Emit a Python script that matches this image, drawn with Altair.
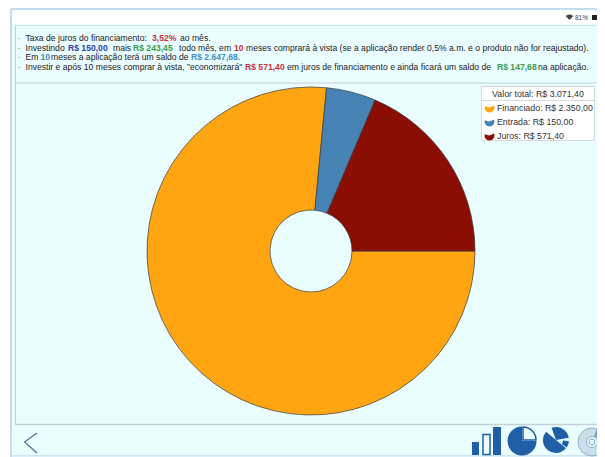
import math
import altair as alt
import pandas as pd

CATEGORIES = ["Financiado", "Entrada", "Juros"]
VALUES = [2350.00, 150.00, 571.40]
COLORS = ["#FFA511", "#4682B4", "#8B0E04"]
LEGEND_TEXT = ["Financiado: R$ 2.350,00", "Entrada: R$ 150,00", "Juros: R$ 571,40"]
TOTAL_TEXT = "Valor total: R$ 3.071,40"

BLACK, RED, NAVY, GREEN, BLUE = "#222222", "#C8323C", "#2A3FA8", "#3C9A4A", "#3F8FC4"
HEADER = [
    (38, [(25.5, "Taxa de juros do financiamento:", BLACK, 0), (152, "3,52%", RED, 1), (180, "ao mês.", BLACK, 0)]),
    (47.5, [(25.5, "Investindo", BLACK, 0), (68, "R$ 150,00", NAVY, 1), (113, "mais", BLACK, 0), (133, "R$ 243,45", GREEN, 1),
            (179, "todo mês, em", BLACK, 0), (234, "10", RED, 1),
            (246, "meses comprará à vista (se a aplicação render 0,5% a.m. e o produto não for reajustado).", BLACK, 0)]),
    (57, [(25.5, "Em", BLACK, 0), (40.5, "10", BLUE, 1), (51, "meses a aplicação terá um saldo de", BLACK, 0), (191, "R$ 2.647,68.", BLUE, 1)]),
    (66.5, [(25.5, "Investir e após 10 meses comprar à vista, \"economizará\"", BLACK, 0), (245, "R$ 571,40", RED, 1),
            (287, "em juros de financiamento e ainda ficará um saldo de", BLACK, 0), (497, "R$ 147,68", GREEN, 1), (538, "na aplicação.", BLACK, 0)]),
]

OX, OY = 8, 8
W, H = 589, 449
FONT = "Liberation Sans"
seed = alt.Chart(pd.DataFrame({"a": [0]}))


def vx(x):
    return alt.value(x - OX)


def vy(y):
    return alt.value(y - OY)


def rect(x0, y0, x1, y1, fill=None, stroke=None, sw=1.0):
    kw = {"fill": fill if fill else "transparent"}
    if stroke:
        kw.update(stroke=stroke, strokeWidth=sw)
    return seed.mark_rect(**kw).encode(x=vx(x0), x2=vx(x1), y=vy(y0), y2=vy(y1))


def rule(x0, y0, x1, y1, color, sw=1.0):
    return seed.mark_rule(color=color, strokeWidth=sw).encode(x=vx(x0), x2=vx(x1), y=vy(y0), y2=vy(y1))


def text(x, y, s, color=BLACK, size=8.6, bold=False, align="left"):
    return seed.mark_text(text=s, color=color, fontSize=size, font=FONT, align=align, baseline="middle",
                          fontWeight="bold" if bold else "normal").encode(x=vx(x), y=vy(y))


def wedge(cx, cy, r, a0, a1, color, r0=0, stroke=None, sw=0.5):
    kw = {"fill": color, "theta": math.radians(a0), "theta2": math.radians(a1), "radius": r, "radius2": r0}
    if stroke:
        kw.update(stroke=stroke, strokeWidth=sw)
    return seed.mark_arc(**kw).encode(x=vx(cx), y=vy(cy))


R = 597
layers = [
    rect(8, 8, R, 457, fill="#FFFFFF"),
    rect(12, 10, R, 457, fill="#EAFDFF"),
    rect(12, 10, R, 24, fill="#FFFFFF"),
    rule(11, 9, R, 9, "#C5DCEC", 2),
    rule(11, 9, 11, 457, "#C5DCEC", 2),
    rule(12, 455.8, R, 455.8, "#CDE4F2", 1.5),
    rule(15.5, 25, 15.5, 425, "#C3D2D8", 1),
    rule(15, 25.5, R, 25.5, "#D5E3E8", 1),
    rule(15.5, 83, R, 83, "#C3D2D8", 1),
    rule(15, 424.5, R, 424.5, "#C3D2D8", 1.5),
    text(588, 17.5, "81%", "#444444", 6.5, align="right"),
    rect(592, 15, 597, 20, fill="#222222"),
    wedge(569.5, 20, 5.5, 315, 405, "#444444"),
]

for y, segs in HEADER:
    layers.append(text(18, y, "-", "#888888", 7))
    for x, s, c, b in segs:
        layers.append(text(x, y, s, c, 8.6, bool(b)))

pie_df = pd.DataFrame({"categoria": CATEGORIES, "valor": VALUES, "ordem": range(len(VALUES))})
pie = alt.Chart(pie_df).mark_arc(innerRadius=41, outerRadius=164, stroke="#3A3A3A", strokeWidth=0.7).encode(
    theta=alt.Theta("valor:Q", stack=True, scale=alt.Scale(domain=[0, sum(VALUES)], range=[math.pi / 2, math.pi / 2 + 2 * math.pi])),
    order=alt.Order("ordem:Q"),
    color=alt.Color("categoria:N", scale=alt.Scale(domain=CATEGORIES, range=COLORS), legend=None),
    x=vx(311),
    y=vy(251),
)
layers.append(pie)

# legend box
layers += [
    rect(481.5, 86.5, 594.5, 140.5, fill="#FFFFFF", stroke="#D2D8DC", sw=1),
    rule(482, 100.5, 594, 100.5, "#D2D8DC", 1),
    text(538, 93.5, TOTAL_TEXT, "#333333", 8.8, align="center"),
]
for i, (label, col) in enumerate(zip(LEGEND_TEXT, COLORS)):
    y = 108 + i * 14
    layers.append(wedge(489.5, y - 0.5, 5, 65, 285, col))
    layers.append(text(497, y, label, "#333333", 8.8))

# bottom navigation
ICON = "#1F5FA5"
layers += [
    rule(37, 433, 24.5, 442, "#4F7391", 1.2),
    rule(24.5, 442, 37, 453, "#4F7391", 1.2),
    rect(472, 442, 479, 455, fill=ICON),
    rect(483, 434.5, 490, 454.5, stroke=ICON, sw=1.5),
    rect(493, 427, 501, 455, fill=ICON),
    wedge(522, 441, 14.5, 90, 360, ICON),
    wedge(523, 440, 13, 0, 90, "#EAFDFF", stroke=ICON, sw=1.5),
    wedge(556, 440, 13, 340, 440, ICON),
    wedge(556, 440, 13, 130, 310, ICON),
    wedge(556, 440, 13, 95, 125, ICON, r0=7),
    wedge(592, 442, 14, 0, 360, "#C9E0EA", r0=3, stroke="#8FAFC6", sw=1),
    wedge(592, 442, 14, 20, 100, "#6F9FC9", r0=6),
    wedge(592, 442, 5.5, 0, 360, "#EAFDFF", r0=3, stroke="#8FAFC6", sw=1),
]

chart = alt.layer(*layers).properties(
    width=W, height=H, padding=0, background="#FFFFFF", autosize=alt.AutoSizeParams(type="none"),
).configure_view(stroke=None)

chart.save("out.html", embed_options={"renderer": "svg", "actions": False})
